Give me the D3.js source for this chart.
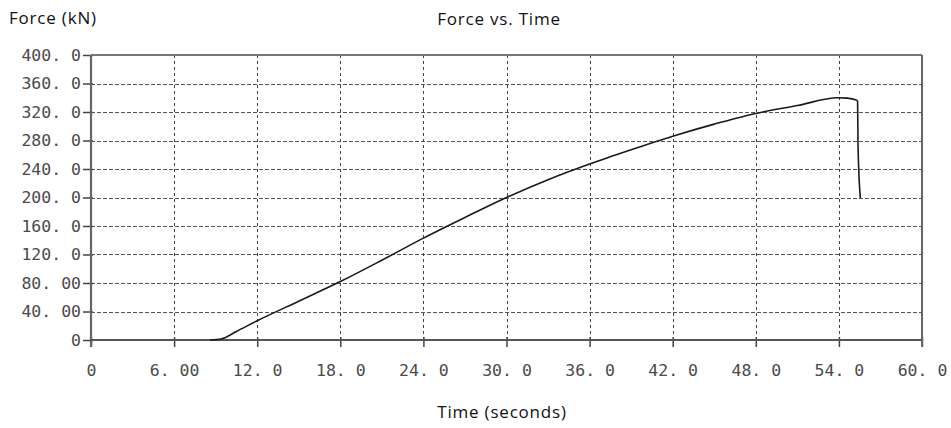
<!DOCTYPE html>
<html>
<head>
<meta charset="utf-8">
<script src="https://cdn.jsdelivr.net/npm/d3@7/dist/d3.min.js"></script>
<style>
  html, body { margin: 0; padding: 0; background: #fff; }
  svg { display: block; }
</style>
</head>
<body>
<svg id="chart" width="951" height="428"></svg>
<script>
// ---- data ----
const times  = [8.6, 9.4, 10.5, 12, 15, 18, 21, 24, 27, 30, 33, 36, 39, 42, 45, 48, 51, 53.9, 54.6, 55.25, 55.35, 55.38, 55.55];
const forces = [0,   1.5, 12,   27, 54.5, 82, 112, 143, 172, 200, 225, 247, 267, 286, 303, 318, 329, 340, 339.5, 337, 335, 274, 199];
const xTicks = [0, 6, 12, 18, 24, 30, 36, 42, 48, 54, 60];
const xTickLabels = ["0", "6. 00", "12. 0", "18. 0", "24. 0", "30. 0", "36. 0", "42. 0", "48. 0", "54. 0", "60. 0"];
const yTicks = [0, 40, 80, 120, 160, 200, 240, 280, 320, 360, 400];
const yTickLabels = ["0", "40. 00", "80. 00", "120. 0", "160. 0", "200. 0", "240. 0", "280. 0", "320. 0", "360. 0", "400. 0"];
const titleText = "Force vs. Time";
const xTitle = "Time (seconds)";
const yTitle = "Force (kN)";

(function () {
// ---- layout ----
const svg = d3.select("#chart");
const pl = 91, pr = 922, pt = 55, pb = 340;
const x = d3.scaleLinear().domain([0, 60]).range([pl, pr]);
const y = d3.scaleLinear().domain([0, 400]).range([pb, pt]);

const monoFont = "'DejaVu Sans Mono', 'Liberation Mono', monospace";
const sansFont = "'Open Sans', 'DejaVu Sans', sans-serif";

// grid lines
const grid = svg.append("g");
grid.selectAll("line.h").data(yTicks.slice(1, -1)).enter().append("line")
  .attr("x1", pl).attr("x2", pr)
  .attr("y1", d => Math.round(y(d)) + 0.5).attr("y2", d => Math.round(y(d)) + 0.5)
  .attr("stroke", "#555").attr("stroke-width", 1).attr("stroke-dasharray", "4,2");
grid.selectAll("line.v").data(xTicks.slice(1, -1)).enter().append("line")
  .attr("x1", d => Math.round(x(d)) + 0.5).attr("x2", d => Math.round(x(d)) + 0.5)
  .attr("y1", pt).attr("y2", pb)
  .attr("stroke", "#444").attr("stroke-width", 1).attr("stroke-dasharray", "3,3");

// x axis
const xAxis = d3.axisBottom(x).tickValues(xTicks)
  .tickFormat((d, i) => xTickLabels[i]).tickSize(7).tickSizeOuter(0).tickPadding(17);
const gx = svg.append("g").attr("transform", `translate(0,${pb})`).call(xAxis);
gx.select(".domain").remove();
gx.selectAll(".tick line").attr("stroke", "#444").attr("stroke-width", 1.5).attr("y1", -3);
gx.selectAll(".tick text").attr("font-family", monoFont).attr("font-size", 16.5).attr("fill", "#4a4a4a");

// y axis
const yAxis = d3.axisLeft(y).tickValues(yTicks)
  .tickFormat((d, i) => yTickLabels[i]).tickSize(8).tickSizeOuter(0).tickPadding(2);
const gy = svg.append("g").attr("transform", `translate(${pl},0)`).call(yAxis);
gy.select(".domain").remove();
gy.selectAll(".tick line").attr("stroke", "#444").attr("stroke-width", 1.5).attr("x2", 2).attr("x1", -8);
gy.selectAll(".tick text").attr("font-family", monoFont).attr("font-size", 16.5).attr("fill", "#4a4a4a");

// frame
const frame = svg.append("g").attr("fill", "none");
frame.append("line").attr("x1", pl).attr("x2", pr).attr("y1", pt).attr("y2", pt)
  .attr("stroke", "#777").attr("stroke-width", 2.2);
frame.append("line").attr("x1", pr).attr("x2", pr).attr("y1", pt).attr("y2", pb + 7)
  .attr("stroke", "#666").attr("stroke-width", 2);
frame.append("line").attr("x1", pl).attr("x2", pl).attr("y1", pt).attr("y2", pb + 7)
  .attr("stroke", "#666").attr("stroke-width", 2.2);
frame.append("line").attr("x1", pl - 1).attr("x2", pr).attr("y1", pb).attr("y2", pb)
  .attr("stroke", "#555").attr("stroke-width", 2);

// curve
const pts = times.map((t, i) => [t, forces[i]]);
svg.append("path").datum(pts)
  .attr("fill", "none").attr("stroke", "#1a1a1a").attr("stroke-width", 1.6)
  .attr("stroke-linejoin", "round")
  .attr("d", d3.line().x(d => x(d[0])).y(d => y(d[1])).curve(d3.curveMonotoneX));

// titles
svg.append("text").attr("x", 9).attr("y", 24).text(yTitle)
  .attr("font-family", sansFont).attr("font-size", 17).attr("letter-spacing", 0.8).attr("fill", "#111");
svg.append("text").attr("x", 499).attr("y", 24.5).attr("text-anchor", "middle").text(titleText)
  .attr("font-family", sansFont).attr("font-size", 17).attr("letter-spacing", 0.8).attr("fill", "#111");
svg.append("text").attr("x", 502).attr("y", 418).attr("text-anchor", "middle").text(xTitle)
  .attr("font-family", sansFont).attr("font-size", 17).attr("letter-spacing", 0.8).attr("fill", "#111");
})();
</script>
</body>
</html>
